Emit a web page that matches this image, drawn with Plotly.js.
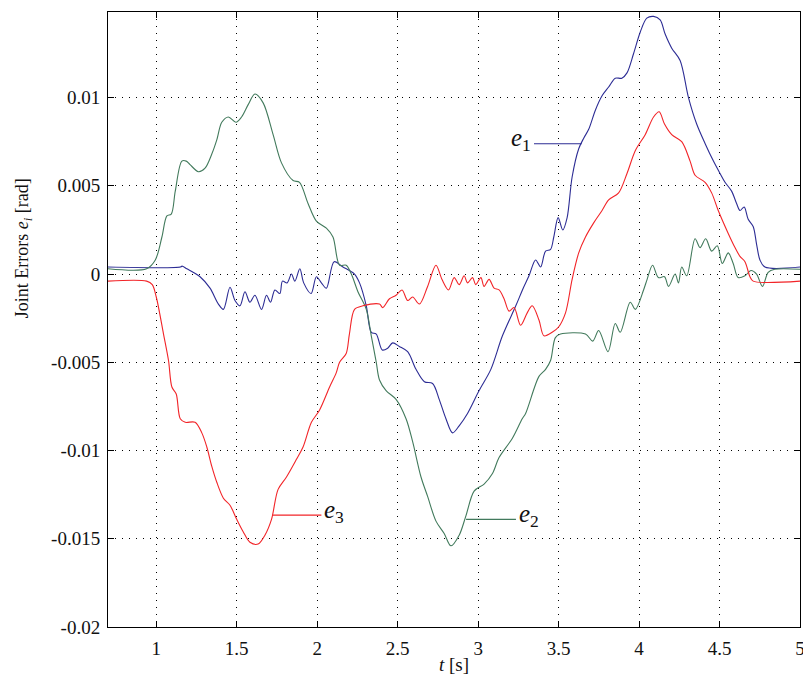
<!DOCTYPE html>
<html><head><meta charset="utf-8">
<script src="https://cdn.plot.ly/plotly-3.0.1.min.js"></script>
<style>body{margin:0;background:#fff}#c{width:803px;height:675px}</style>
</head><body><div id="c"></div>
<script>
const t1 = [0.70,1.15,1.16,1.19,1.272,1.334,1.386,1.417,1.458,1.489,1.52,1.551,1.582,1.613,1.654,1.685,1.71,1.737,1.768,1.784,1.813,1.84,1.861,1.892,1.916,1.962,1.995,2.026,2.057,2.105,2.16,2.20,2.232,2.263,2.305,2.336,2.367,2.404,2.438,2.469,2.51,2.562,2.614,2.666,2.717,2.758,2.80,2.841,2.882,2.934,3.006,3.079,3.151,3.234,3.28,3.316,3.357,3.388,3.419,3.45,3.47,3.497,3.526,3.553,3.584,3.625,3.656,3.687,3.729,3.77,3.811,3.852,3.893,3.925,3.966,4.007,4.048,4.09,4.131,4.162,4.203,4.255,4.307,4.358,4.41,4.462,4.503,4.534,4.575,4.606,4.627,4.653,4.678,4.709,4.73,4.751,4.782,5.0];
const e1 = [0.0004,0.0004,0.00045,0.0003,-0.00015,-0.0008,-0.0017,-0.0020,-0.00075,-0.0015,-0.0018,-0.0010,-0.0016,-0.0012,-0.0020,-0.0012,-0.0016,-0.0009,-0.0011,-0.0004,-0.0005,0.0000,-0.0004,0.0003,-0.0005,-0.0011,-0.00015,-0.0005,-0.0008,0.0007,0.0004,0.0002,0.0000,-0.0005,-0.0018,-0.0033,-0.0034,-0.0043,-0.0042,-0.0039,-0.0041,-0.0044,-0.0054,-0.0061,-0.0062,-0.0071,-0.0082,-0.0090,-0.0086,-0.0079,-0.0066,-0.0054,-0.0035,-0.0018,-0.0008,-0.0001,0.0008,0.0004,0.0013,0.0014,0.0021,0.0032,0.0025,0.0032,0.0055,0.0071,0.0077,0.0082,0.0093,0.0101,0.0106,0.0111,0.0111,0.0114,0.0125,0.0137,0.0145,0.0146,0.0144,0.0136,0.0128,0.0121,0.0100,0.0085,0.0074,0.0064,0.0057,0.0052,0.0047,0.0040,0.0036,0.0038,0.0031,0.0027,0.0017,0.0008,0.0004,0.0004];

const t2 = [0.70,0.94,0.994,1.035,1.066,1.093,1.118,1.159,1.186,1.21,1.262,1.303,1.345,1.376,1.407,1.448,1.495,1.53,1.571,1.613,1.664,1.726,1.778,1.85,1.89,1.943,1.995,2.057,2.098,2.139,2.18,2.212,2.253,2.305,2.336,2.367,2.387,2.428,2.49,2.552,2.593,2.645,2.686,2.738,2.789,2.831,2.882,2.924,2.975,3.037,3.089,3.13,3.213,3.274,3.295,3.378,3.419,3.45,3.48,3.512,3.667,3.712,3.749,3.807,3.852,3.883,3.945,3.977,4.028,4.05,4.084,4.12,4.158,4.183,4.224,4.245,4.265,4.296,4.348,4.379,4.414,4.451,4.486,4.517,4.554,4.585,4.616,4.658,4.695,4.73,4.767,4.802,4.843,5.0];
const e2 = [0.0003,0.0003,0.0008,0.0021,0.0033,0.0034,0.0047,0.0064,0.0064,0.0062,0.0058,0.0060,0.0068,0.0076,0.0086,0.0089,0.0086,0.0089,0.0096,0.0102,0.0097,0.0079,0.0063,0.0053,0.0052,0.0040,0.0030,0.0026,0.0021,0.0005,0.0005,0.0000,-0.0010,-0.0020,-0.0035,-0.0050,-0.0060,-0.0066,-0.0071,-0.0082,-0.0095,-0.0115,-0.0126,-0.0140,-0.0147,-0.0154,-0.0148,-0.0137,-0.0123,-0.0119,-0.0113,-0.0104,-0.0093,-0.0082,-0.0079,-0.0058,-0.0054,-0.0049,-0.0036,-0.0034,-0.0034,-0.0038,-0.0032,-0.0044,-0.0028,-0.0033,-0.0016,-0.0020,-0.0009,-0.0003,0.0005,-0.0002,-0.00015,-0.0007,0.0000,-0.0005,0.0004,-0.0001,0.0020,0.0015,0.0020,0.0013,0.0016,0.0006,0.0012,0.0006,-0.0002,-0.0001,0.0002,0.0000,-0.0007,0.0001,0.00027,0.00027];

const t3 = [0.70,0.94,0.975,1.0,1.045,1.076,1.097,1.124,1.149,1.18,1.241,1.283,1.314,1.345,1.376,1.417,1.458,1.50,1.54,1.582,1.633,1.675,1.716,1.757,1.809,1.871,1.912,1.964,2.015,2.077,2.118,2.139,2.18,2.20,2.232,2.284,2.387,2.407,2.449,2.49,2.527,2.562,2.593,2.635,2.686,2.738,2.775,2.816,2.851,2.882,2.913,2.934,2.965,2.985,3.017,3.037,3.068,3.099,3.13,3.161,3.192,3.223,3.264,3.305,3.336,3.378,3.409,3.46,3.50,3.543,3.584,3.625,3.667,3.718,3.77,3.811,3.873,3.925,3.977,4.038,4.09,4.125,4.158,4.203,4.265,4.317,4.348,4.41,4.451,4.492,4.554,4.596,4.627,4.658,4.689,4.709,5.0];
const e3 = [-0.0004,-0.0004,-0.0006,-0.0013,-0.0034,-0.0049,-0.0064,-0.0068,-0.0082,-0.0084,-0.0084,-0.0090,-0.0098,-0.0109,-0.0118,-0.0127,-0.0131,-0.0139,-0.0146,-0.0152,-0.0153,-0.0148,-0.0139,-0.0122,-0.0115,-0.0105,-0.0098,-0.0084,-0.0077,-0.0064,-0.0056,-0.0050,-0.0045,-0.0034,-0.0020,-0.0018,-0.0017,-0.0019,-0.0014,-0.0012,-0.0009,-0.0015,-0.0013,-0.0017,-0.0007,0.0005,-0.0003,-0.0009,-0.0002,-0.0006,-0.0001,-0.0005,-0.0002,-0.0006,-0.0002,-0.0007,-0.0003,-0.0008,-0.0009,-0.0014,-0.0021,-0.0019,-0.0029,-0.0022,-0.0018,-0.0026,-0.0035,-0.0033,-0.0030,-0.0022,-0.0003,0.0012,0.0021,0.0029,0.0036,0.0042,0.0046,0.0057,0.0070,0.0079,0.0089,0.0092,0.0085,0.0079,0.0075,0.0064,0.0056,0.0052,0.0046,0.0036,0.0023,0.0015,0.0010,0.0007,-0.00015,-0.0004,-0.0004];

const xTickVals = [1,1.5,2,2.5,3,3.5,4,4.5,5];
const xTickText = ["1","1.5","2","2.5","3","3.5","4","4.5","5"];
const yTickVals = [0.01,0.005,0,-0.005,-0.01,-0.015,-0.02];
const yTickText = ["0.01","0.005","0","-0.005","-0.01","-0.015","-0.02"];

const cBlue = '#2c2c94', cGreen = '#427a5c', cRed = '#f22428';
const fam = 'Liberation Serif';
const font = {family:fam, size:19, color:'#111'};

function tr(x,y,c){return {x:x,y:y,type:'scatter',mode:'lines',line:{color:c,width:1.1,shape:'spline',smoothing:0.9},hoverinfo:'skip',showlegend:false};}

const axisBase = {showline:true,linecolor:'#000',linewidth:1,mirror:'ticks',ticks:'inside',ticklen:6,tickcolor:'#000',showgrid:true,gridcolor:'#000',griddash:'1px,6px',gridwidth:1,zeroline:false,tickfont:font,ticklabeloverflow:'allow',layer:'above traces'};

const layout = {
  width:803,height:675,
  margin:{l:108,r:3,t:12,b:48},
  paper_bgcolor:'#fff',plot_bgcolor:'#fff',
  font:font,
  xaxis:Object.assign({},axisBase,{range:[0.7,5],tickvals:xTickVals,ticktext:xTickText,ticklabelstandoff:4,title:{text:'<i>t</i> [s]',font:font,standoff:2}}),
  yaxis:Object.assign({},axisBase,{range:[-0.02,0.01485],tickvals:yTickVals,ticktext:yTickText,ticklabelstandoff:3}),
  shapes:[
    {type:'line',xref:'x',yref:'y',x0:3.347,x1:3.644,y0:0.00738,y1:0.00738,line:{color:cBlue,width:1.1}},
    {type:'line',xref:'x',yref:'y',x0:2.925,x1:3.235,y0:-0.0139,y1:-0.0139,line:{color:cGreen,width:1.1}},
    {type:'line',xref:'x',yref:'y',x0:1.723,x1:2.026,y0:-0.01366,y1:-0.01366,line:{color:cRed,width:1.1}}
  ],
  annotations:[
    {xref:'paper',yref:'paper',x:-0.122,y:0.615,xanchor:'center',yanchor:'middle',textangle:-90,text:'Joint Errors <i>e<sub>i</sub></i> [rad]',showarrow:false,font:{family:fam,size:18,color:'#111'}},
    {xref:'x',yref:'y',x:3.343,y:0.0076,xanchor:'right',yanchor:'middle',text:'<i>e</i><sub>1</sub>',showarrow:false,font:{family:fam,size:25,color:'#111'}},
    {xref:'x',yref:'y',x:3.24,y:-0.0137,xanchor:'left',yanchor:'middle',text:'<i>e</i><sub>2</sub>',showarrow:false,font:{family:fam,size:25,color:'#111'}},
    {xref:'x',yref:'y',x:2.03,y:-0.01345,xanchor:'left',yanchor:'middle',text:'<i>e</i><sub>3</sub>',showarrow:false,font:{family:fam,size:25,color:'#111'}}
  ]
};

Plotly.newPlot('c',[tr(t1,e1,cBlue),tr(t2,e2,cGreen),tr(t3,e3,cRed)],layout,{staticPlot:true});
</script></body></html>
